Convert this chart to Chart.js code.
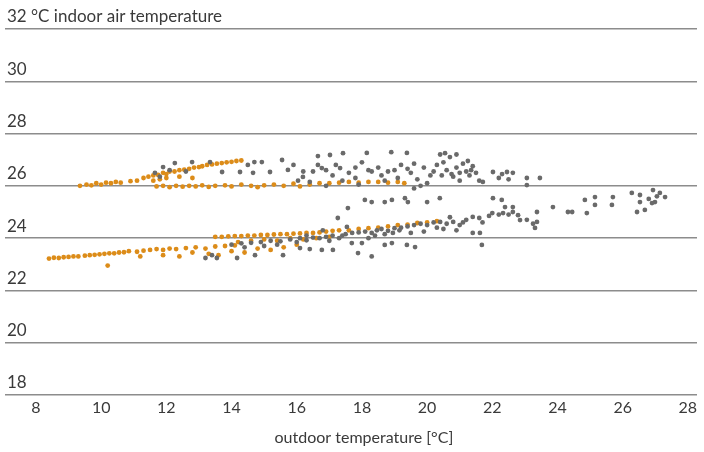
<!DOCTYPE html>
<html>
<head>
<meta charset="utf-8">
<script src="https://cdn.jsdelivr.net/npm/chart.js@4.4.1/dist/chart.umd.min.js"></script>
<style>
	body { margin: 0; background: #fff; }
	#wrap { width: 704px; height: 452px; }
</style>
</head>
<body>
<div id="wrap"><canvas id="myChartTemp" width="704" height="452"></canvas></div>
<script>
// ticks
const xTicks = [8, 10, 12, 14, 16, 18, 20, 22, 24, 26, 28];
const yTicks = [18, 20, 22, 24, 26, 28, 30, 32];
const yUnitLabel = "°C indoor air temperature";
const xTitle = "outdoor temperature [°C]";

// orange series [outdoor, indoor]
const orangePoints = [
	[9.35, 26.0], [9.55, 26.05], [9.7, 26.02], [9.85, 26.1], [10.0, 26.05], [10.15, 26.12],
	[10.3, 26.1], [10.45, 26.15], [10.6, 26.12], [10.9, 26.18], [11.1, 26.2], [11.7, 25.98],
	[11.9, 26.0], [12.1, 25.95], [12.3, 26.0], [12.5, 25.97], [12.7, 26.0], [12.9, 25.98],
	[13.1, 26.02], [13.3, 25.96], [13.5, 26.0], [13.8, 26.02], [14.0, 25.98], [14.3, 26.05],
	[14.6, 26.0], [14.8, 25.95], [15.0, 26.02], [15.3, 26.05], [15.6, 26.0], [15.9, 26.08],
	[16.1, 25.98], [16.4, 26.05], [16.7, 26.1], [17.0, 26.1], [17.3, 26.12], [17.6, 26.15],
	[17.9, 26.12], [18.2, 26.15], [18.5, 26.15], [18.8, 26.12], [19.1, 26.15], [19.3, 26.1],
	[11.3, 26.3], [11.45, 26.35], [11.6, 26.4], [11.75, 26.42], [11.9, 26.5], [12.0, 26.45],
	[12.1, 26.55], [12.25, 26.55], [12.4, 26.6], [12.55, 26.62], [12.7, 26.65], [12.85, 26.7],
	[13.0, 26.72], [13.1, 26.75], [13.25, 26.8], [13.4, 26.82], [13.55, 26.85], [13.7, 26.87],
	[13.85, 26.9], [14.0, 26.92], [14.15, 26.95], [14.3, 26.97], [11.6, 26.2], [12.0, 26.3],
	[12.4, 26.35], [12.8, 26.3], [11.8, 26.25],
	[8.4, 23.22], [8.55, 23.25], [8.7, 23.24], [8.85, 23.27], [9.0, 23.28], [9.15, 23.3],
	[9.3, 23.3], [9.5, 23.33], [9.65, 23.35], [9.8, 23.36], [9.95, 23.38], [10.1, 23.4],
	[10.25, 23.42], [10.4, 23.42], [10.55, 23.45], [10.7, 23.46], [10.85, 23.5], [11.1, 23.48],
	[11.3, 23.52], [11.5, 23.55], [11.7, 23.58], [11.9, 23.55], [12.1, 23.6], [12.3, 23.58],
	[12.6, 23.62], [12.9, 23.65], [13.2, 23.6], [13.5, 23.68], [13.8, 23.7], [14.1, 23.72],
	[10.2, 22.95], [11.2, 23.3], [11.9, 23.35], [12.4, 23.3], [12.8, 23.45], [13.3, 23.4],
	[13.6, 23.35], [14.0, 23.5], [14.4, 23.45], [14.8, 23.6], [15.2, 23.55], [15.6, 23.65],
	[16.0, 23.75],
	[13.5, 24.05], [13.7, 24.05], [13.9, 24.07], [14.1, 24.08], [14.3, 24.08], [14.5, 24.1],
	[14.7, 24.1], [14.9, 24.12], [15.1, 24.12], [15.3, 24.14], [15.5, 24.15], [15.7, 24.15],
	[15.9, 24.17], [16.1, 24.18], [16.3, 24.2], [16.5, 24.2], [16.7, 24.22], [16.9, 24.25],
	[17.1, 24.28], [17.3, 24.3], [17.6, 24.3], [17.9, 24.35], [18.2, 24.38], [18.5, 24.4],
	[18.8, 24.45], [19.1, 24.5], [19.4, 24.52], [19.7, 24.58], [20.0, 24.6], [20.3, 24.65],
	[14.2, 23.85], [14.6, 23.9], [15.0, 23.95], [15.4, 23.9], [15.8, 24.0], [16.2, 23.95],
	[16.6, 24.0], [17.0, 24.05]
];

// gray series [outdoor, indoor]
const grayPoints = [
	[11.65, 26.5], [11.9, 26.72], [12.26, 26.87], [12.79, 26.91], [13.34, 26.91], [13.71, 26.53],
	[14.26, 26.53], [14.5, 26.8], [14.7, 26.91], [14.93, 26.91], [14.66, 26.5], [15.18, 26.53],
	[15.55, 26.99], [15.73, 26.61], [16.04, 26.2], [16.19, 26.34], [16.65, 27.14], [16.77, 26.68],
	[16.65, 26.8], [17.02, 27.18], [17.33, 26.68], [17.42, 27.25], [17.1, 26.4], [17.6, 26.5],
	[17.8, 26.7], [18.0, 26.9], [18.15, 27.26], [18.3, 26.55], [18.5, 26.7], [18.6, 26.4],
	[18.9, 27.29], [19.0, 26.6], [19.2, 26.8], [19.38, 27.26], [19.1, 26.3], [19.5, 26.5],
	[19.7, 26.25], [19.9, 26.7], [20.1, 26.4], [20.3, 26.8], [20.4, 27.2], [20.55, 27.25],
	[20.7, 27.1], [20.9, 27.2], [20.5, 26.9], [20.6, 26.6], [20.75, 26.45], [20.9, 26.7],
	[21.0, 26.5], [21.1, 26.85], [21.2, 26.55], [21.3, 26.4], [21.4, 26.75], [21.5, 26.5],
	[20.8, 26.35], [21.0, 26.2], [21.6, 26.2], [21.71, 26.15], [22.02, 26.53], [22.3, 26.45],
	[22.45, 26.53], [22.63, 26.5], [22.2, 26.3], [22.5, 26.25], [23.06, 26.3], [23.06, 26.03],
	[23.46, 26.3], [19.8, 26.0], [18.7, 26.2], [17.9, 26.05], [16.9, 26.0], [16.4, 26.15],
	[17.4, 26.2], [20.0, 26.1], [19.6, 25.9], [17.8, 26.3], [16.2, 26.55], [15.9, 26.8],
	[16.5, 26.55], [16.9, 26.6], [17.2, 26.8], [18.2, 26.6], [18.8, 26.55], [19.4, 26.65],
	[19.6, 26.85], [20.2, 26.55], [20.45, 26.4], [21.25, 26.95], [21.35, 26.6], [12.1, 26.6],
	[12.6, 26.55], [11.8, 26.35],
	[13.2, 23.24], [13.55, 23.24], [13.4, 23.35], [14.17, 23.24], [14.72, 23.35], [15.58, 23.35],
	[16.1, 23.62], [16.4, 23.58], [16.77, 23.55], [17.11, 23.55], [17.69, 23.81], [17.88, 23.43],
	[18.0, 23.81], [18.7, 23.74], [18.92, 23.81], [19.38, 23.74], [19.63, 23.66], [18.3, 23.3],
	[21.68, 23.74],
	[14.0, 23.75], [14.3, 23.8], [14.6, 23.82], [14.9, 23.85], [15.2, 23.9], [15.5, 23.88],
	[15.8, 23.95], [16.1, 24.0], [16.3, 23.92], [16.5, 24.02], [16.7, 24.0], [16.9, 24.05],
	[17.1, 24.1], [17.26, 24.77], [17.54, 24.43], [17.3, 24.0], [17.5, 24.15], [17.7, 24.2],
	[17.9, 24.22], [18.1, 24.25], [18.3, 24.2], [18.46, 24.3], [18.6, 24.35], [18.8, 24.28],
	[19.0, 24.38], [19.2, 24.4], [19.4, 24.45], [19.6, 24.5], [19.8, 24.55], [20.0, 24.5],
	[20.2, 24.6], [20.4, 24.62], [20.6, 24.55], [20.8, 24.62], [21.0, 24.5], [21.2, 24.7],
	[21.4, 24.81], [21.6, 24.77], [21.7, 24.6], [21.9, 24.85], [22.0, 24.96], [22.2, 24.9],
	[22.33, 24.96], [22.5, 24.9], [22.63, 25.0], [22.79, 24.88], [22.85, 24.69], [23.06, 24.7],
	[23.37, 24.62], [23.31, 24.39], [21.4, 24.2], [21.62, 24.2], [20.9, 24.3], [20.5, 24.35],
	[19.9, 24.25], [16.8, 24.3], [16.3, 24.1], [18.2, 24.0], [19.5, 24.2], [20.3, 24.4],
	[18.4, 24.1], [18.7, 24.15], [18.95, 24.2], [19.15, 24.3], [15.0, 23.7], [15.4, 23.75],
	[16.0, 23.85], [17.0, 23.9], [17.4, 24.1], [14.4, 23.65], [20.7, 24.8], [21.1, 24.6],
	[17.57, 25.15], [18.09, 25.46], [18.3, 25.38], [18.7, 25.38], [18.92, 25.46], [19.32, 25.53],
	[19.41, 25.38], [20.0, 25.38], [20.39, 25.53], [22.02, 25.53], [22.29, 25.46], [22.39, 25.19],
	[22.63, 25.19], [23.37, 25.0], [23.86, 25.19], [24.32, 25.0], [24.45, 25.0], [24.84, 25.46],
	[25.15, 25.57], [25.15, 25.27], [24.9, 24.96], [25.7, 25.57], [25.67, 25.27], [26.28, 25.73],
	[26.53, 25.65], [26.53, 25.38], [26.44, 25.0], [26.68, 25.08], [26.93, 25.84], [27.14, 25.73],
	[27.3, 25.57], [26.99, 25.38], [26.9, 25.34], [26.8, 25.5], [27.05, 25.6], [23.25, 24.55]
];

const toXY = (arr) => arr.map((p) => ({ x: p[0], y: p[1] }));

// x title, centred under the 8..28 ticks
const xTitlePlugin = {
	id: "xTitlePlugin",
	afterDraw(chart) {
		const c = chart.ctx;
		const xs = chart.scales.x;
		c.save();
		c.font = "16px Lato";
		c.fillStyle = "#3a3a3a";
		c.textAlign = "center";
		c.textBaseline = "middle";
		c.fillText(xTitle, (xs.getPixelForValue(xTicks[0]) + xs.getPixelForValue(xTicks[xTicks.length - 1])) / 2 + 2, 438);
		c.restore();
	}
};

const ctx1 = document.getElementById("myChartTemp");

new Chart(ctx1, {
	type: "scatter",
	data: {
		datasets: [
			{
				label: "gray",
				data: toXY(grayPoints),
				backgroundColor: "rgb(106, 106, 106)",
				borderWidth: 0,
				pointRadius: 2.4
			},
			{
				label: "orange",
				data: toXY(orangePoints),
				backgroundColor: "rgb(220, 140, 25)",
				borderWidth: 0,
				pointRadius: 2.4
			}
		]
	},
	options: {
		responsive: false,
		animation: false,
		layout: {
			padding: { left: 5, right: 7, top: 29, bottom: 0 }
		},
		plugins: {
			legend: { display: false },
			tooltip: { enabled: false }
		},
		scales: {
			x: {
				type: "linear",
				min: 7.05,
				max: 28.28,
				afterBuildTicks: (scale) => {
					scale.ticks = xTicks.map((v) => ({ value: v }));
				},
				afterFit: (scale) => {
					scale.height = 57;
				},
				grid: { display: false, drawTicks: false },
				border: { display: false },
				ticks: {
					padding: 3,
					color: "#3a3a3a",
					font: { family: "Lato", size: 16 }
				}
			},
			y: {
				type: "linear",
				min: 18,
				max: 32,
				afterBuildTicks: (scale) => {
					scale.ticks = yTicks.map((v) => ({ value: v }));
				},
				afterFit: (scale) => {
					scale.width = 0;
				},
				grid: {
					color: "#8c8c8c",
					lineWidth: 1.5,
					drawTicks: false
				},
				border: { display: false },
				ticks: {
					mirror: true,
					padding: 2,
					labelOffset: -12,
					color: "#3a3a3a",
					font: { family: "Lato", size: 17 },
					callback: (v) => (v === 32 ? v + " " + yUnitLabel : String(v))
				}
			}
		}
	},
	plugins: [xTitlePlugin]
});
</script>
</body>
</html>
